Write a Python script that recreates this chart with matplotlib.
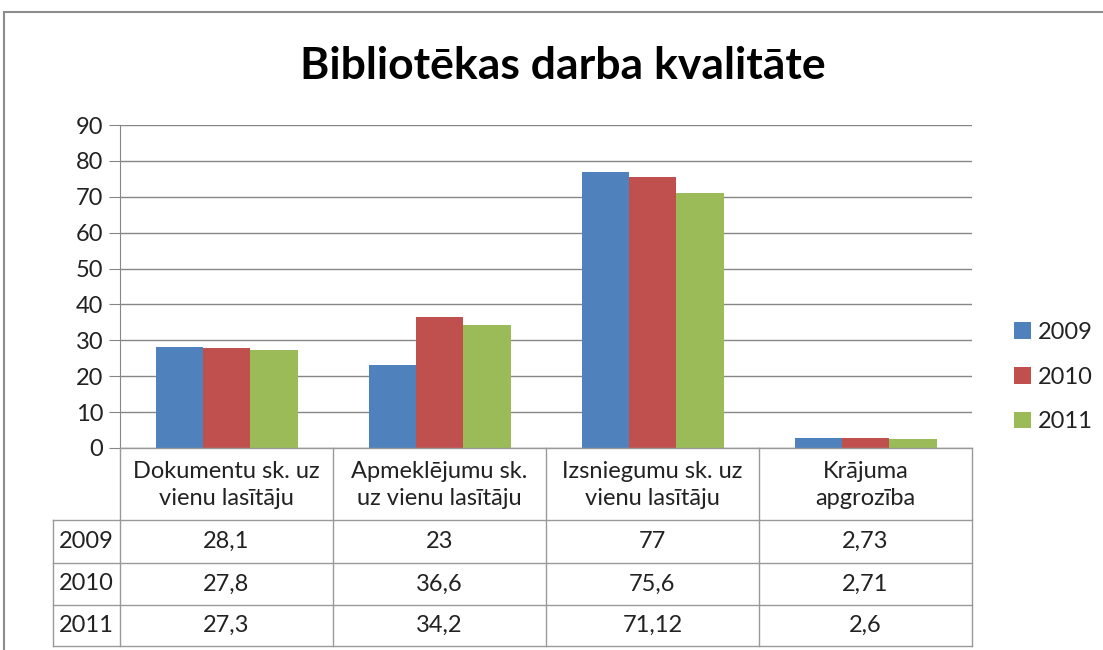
import matplotlib
matplotlib.use("Agg")
import matplotlib.pyplot as plt
from matplotlib.patches import Rectangle
from matplotlib.lines import Line2D
import numpy as np

plt.rcParams['font.family'] = ['Lato', 'DejaVu Sans']

title = "Bibliotēkas darba kvalitāte"
categories = ["Dokumentu sk. uz\nvienu lasītāju", "Apmeklējumu sk.\nuz vienu lasītāju",
              "Izsniegumu sk. uz\nvienu lasītāju", "Krājuma\napgrozība"]
years = ["2009", "2010", "2011"]
v2009 = [28.1, 23, 77, 2.73]
v2010 = [27.8, 36.6, 75.6, 2.71]
v2011 = [27.3, 34.2, 71.12, 2.6]
series = [v2009, v2010, v2011]
colors = ["#4F81BD", "#C0504D", "#9BBB59"]
yticks = [0, 10, 20, 30, 40, 50, 60, 70, 80, 90]

W, H = 1103, 650
FS = 17
fig = plt.figure(figsize=(W / 100, H / 100), dpi=100)

def fx(x):
    return x / W

def fy(y):
    return 1 - y / H

# chart border
fig.add_artist(Rectangle((fx(4), fy(700)), fx(1200), fy(12) - fy(700), transform=fig.transFigure,
                         fill=False, edgecolor="#8c8c8c", linewidth=1.5))

axL, axR, axT, axB = 120, 972, 125, 448
ax = fig.add_axes([fx(axL), fy(axB), fx(axR - axL), fy(axT) - fy(axB)])

n = len(categories)
x = np.arange(n)
bw = 1 / (3 + 1.5)
for i, (vals, c, lab) in enumerate(zip(series, colors, years)):
    ax.bar(x + (i - 1) * bw, vals, width=bw, color=c, label=lab, zorder=3)

ax.set_xlim(-0.5, n - 0.5)
ax.set_ylim(0, 90)
ax.set_yticks(yticks)
ax.set_yticklabels([str(t) for t in yticks], fontsize=FS, color="#222222")
ax.yaxis.grid(True, color="#868686", linewidth=1, zorder=0)
ax.set_xticks([])
for s in ["top", "right", "bottom"]:
    ax.spines[s].set_visible(False)
ax.spines["left"].set_color("#868686")
ax.tick_params(axis="y", length=8, color="#868686", pad=4)

# data table
lc = "#999999"
rows_y = [448, 520, 563, 605, 646]
for y in rows_y[1:]:
    fig.add_artist(Line2D([fx(53), fx(axR)], [fy(y), fy(y)], color=lc, lw=1, transform=fig.transFigure))
fig.add_artist(Line2D([fx(axL), fx(axR)], [fy(448), fy(448)], color=lc, lw=1, transform=fig.transFigure))
for k in range(n + 1):
    xp = axL + k * (axR - axL) / n
    fig.add_artist(Line2D([fx(xp), fx(xp)], [fy(448), fy(646)], color=lc, lw=1, transform=fig.transFigure))
fig.add_artist(Line2D([fx(53), fx(53)], [fy(520), fy(646)], color=lc, lw=1, transform=fig.transFigure))

cw = (axR - axL) / n
for k, cat in enumerate(categories):
    cx = axL + (k + 0.5) * cw
    fig.text(fx(cx), fy(485), cat, ha="center", va="center", fontsize=FS, color="#222222",
             linespacing=1.35)
for r, (vals, lab) in enumerate(zip(series, years)):
    cy = (rows_y[r + 1] + rows_y[r + 2]) / 2
    fig.text(fx(86.5), fy(cy), lab, ha="center", va="center", fontsize=FS, color="#222222")
    for k, v in enumerate(vals):
        cx = axL + (k + 0.5) * cw
        fig.text(fx(cx), fy(cy), f"{v:g}".replace(".", ","), ha="center", va="center",
                 fontsize=FS, color="#222222")

# legend
leg = fig.legend(loc="center left", bbox_to_anchor=(fx(1014), fy(377)), frameon=False,
                 fontsize=FS, handlelength=0.7, handleheight=0.7, handletextpad=0.3,
                 labelspacing=1.0, labelcolor="#222222", borderpad=0, borderaxespad=0)

fig.text(fx(563), fy(66), title, ha="center", va="center", fontsize=32, fontweight="bold",
         color="black")

fig.savefig("out.png", dpi=100)
